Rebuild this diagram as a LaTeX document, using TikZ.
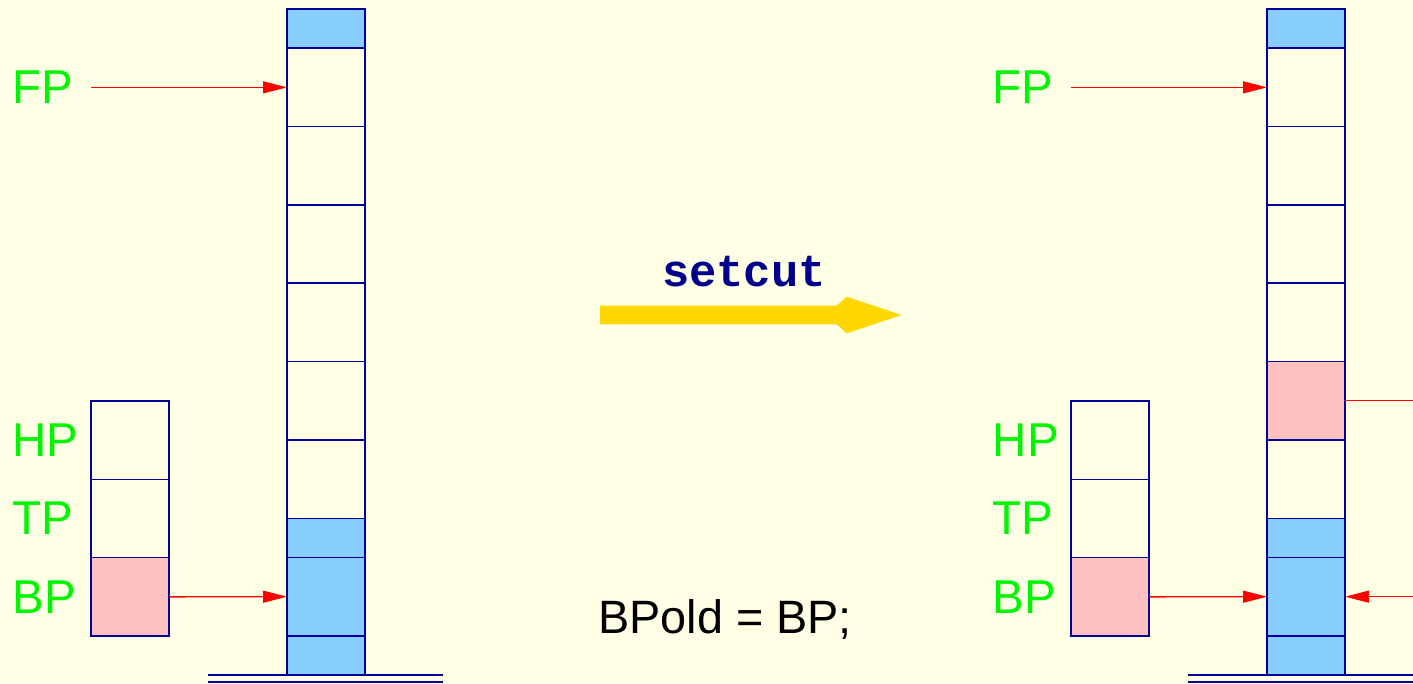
\documentclass[tikz,border=0pt]{standalone}
\usepackage{fontspec}
\setmainfont{Liberation Sans}
\newfontfamily\codefont{Liberation Mono}
\usetikzlibrary{arrows.meta,positioning}
\definecolor{paper}{HTML}{FFFFE6}
\definecolor{frame}{HTML}{000099}
\definecolor{used}{HTML}{87CEFF}
\definecolor{marked}{HTML}{FFC0C0}
\definecolor{regname}{HTML}{00F500}
\definecolor{pointer}{HTML}{FF0000}
\definecolor{move}{HTML}{FFD700}
\begin{document}
\begin{tikzpicture}[
  x=1pt, y=-1pt,
  cell/.style={draw=frame, line width=1.5pt, minimum width=78pt, minimum height=78.35pt, inner sep=0pt, outer sep=0pt},
  half/.style={cell, minimum height=39.2pt},
  reg/.style={text=regname, font=\fontsize{47.5}{50}\selectfont, anchor=base west, inner sep=0pt},
  ptr/.style={draw=pointer, line width=1.3pt, -{Triangle[length=24pt,width=12pt]}}
]
  \useasboundingbox[fill=paper] (0,0) rectangle (1413,684);

  % left stack
  \node[half, fill=used, anchor=north] (lt0) at (326,9) {};
  \node[cell, below=0pt of lt0] (lc1) {};
  \node[cell, below=0pt of lc1] (lc2) {};
  \node[cell, below=0pt of lc2] (lc3) {};
  \node[cell, below=0pt of lc3] (lc4) {};
  \node[cell, below=0pt of lc4] (lc5) {};
  \node[cell, below=0pt of lc5] (lc6) {};
  \node[half, fill=used, below=0pt of lc6] (lh1) {};
  \node[cell, fill=used, below=0pt of lh1] (lb1) {};
  \node[half, fill=used, below=0pt of lb1] (lh2) {};
  \draw[frame, line width=1.5pt] (208,675) -- (443,675) (208,682) -- (443,682);

  % left registers
  \node[cell, anchor=north] (lhp) at (130,401) {};
  \node[cell, below=0pt of lhp] (ltp) {};
  \node[cell, fill=marked, below=0pt of ltp] (lbp) {};
  \node[reg] (lfpname) at (12.5,104) {FP};
  \node[reg] (lhpname) at (12.5,456) {HP};
  \node[reg] (ltpname) at (12.5,534) {TP};
  \node[reg] (lbpname) at (12.5,613) {BP};
  \coordinate (lfp) at ([xshift=-196pt]lc1.west);
  \draw[ptr] (lfp) -- (lc1.west);
  \draw[ptr] (lbp.east) -- (lb1.west);

  % setcut
  \node[text={rgb,255:red,0;green,0;blue,140}, font=\codefont\bfseries\fontsize{45.5}{50}\selectfont, anchor=base] (setcut) at (744,287) {setcut};
  \fill[move] (600,305.7) -- (836.7,305.7) -- (846.7,296.7) -- (901.7,315)
    -- (846.7,333.3) -- (836.7,324.3) -- (600,324.3) -- cycle;
  \node[font=\fontsize{46.8}{50}\selectfont, anchor=base west, inner sep=0pt] (assign) at (598,633.5) {BPold = BP;};

  % right stack
  \node[half, fill=used, anchor=north] (rt0) at (1306,9) {};
  \node[cell, below=0pt of rt0] (rc1) {};
  \node[cell, below=0pt of rc1] (rc2) {};
  \node[cell, below=0pt of rc2] (rc3) {};
  \node[cell, below=0pt of rc3] (rc4) {};
  \node[cell, fill=marked, below=0pt of rc4] (rc5) {};
  \node[cell, below=0pt of rc5] (rc6) {};
  \node[half, fill=used, below=0pt of rc6] (rh1) {};
  \node[cell, fill=used, below=0pt of rh1] (rb1) {};
  \node[half, fill=used, below=0pt of rb1] (rh2) {};
  \draw[frame, line width=1.5pt] (1188,675) -- (1420,675) (1188,682) -- (1420,682);

  % right registers
  \node[cell, anchor=north] (rhp) at (1110,401) {};
  \node[cell, below=0pt of rhp] (rtp) {};
  \node[cell, fill=marked, below=0pt of rtp] (rbp) {};
  \node[reg] (rfpname) at (992.5,104) {FP};
  \node[reg] (rhpname) at (992.5,456) {HP};
  \node[reg] (rtpname) at (992.5,534) {TP};
  \node[reg] (rbpname) at (992.5,613) {BP};
  \coordinate (rfp) at ([xshift=-196pt]rc1.west);
  \coordinate (rcut) at ([xshift=80pt]rc5.east);
  \coordinate (rbpold) at ([xshift=80pt]rb1.east);
  \draw[ptr] (rfp) -- (rc1.west);
  \draw[ptr] (rbp.east) -- (rb1.west);
  \draw[draw=pointer, line width=1.3pt] (rc5.east) -- (rcut);
  \draw[ptr] (rbpold) -- (rb1.east);
\end{tikzpicture}
\end{document}
